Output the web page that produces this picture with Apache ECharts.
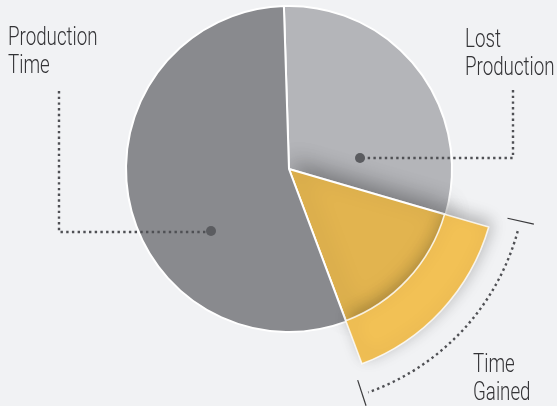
<!DOCTYPE html>
<html>
<head>
<meta charset="utf-8">
<script src="https://cdn.jsdelivr.net/npm/echarts@6/dist/echarts.min.js"></script>
<style>
  html, body { margin: 0; padding: 0; background: #f1f2f4; }
  #chart { width: 557px; height: 406px; }
</style>
</head>
<body>
<div id="chart"></div>
<script>
// slices, clockwise from just left of 12 o'clock
const sliceNames = ['Lost Production', 'Time Gained', 'Production Time'];
const sliceValues = [30, 14.8, 55.2];
const baseColors = ['#b4b5b9', '#e2b44f', '#898a8e'];
const gainedOuterColor = '#f2c155';
const labelTexts = ['Lost\nProduction', 'Time\nGained', 'Production\nTime'];

const cx = 289, cy = 169;
const rPie = 163, rGain = 208;
const startAngle = 91.8; // echarts degrees, ccw from 3 o'clock

const font = "Roboto, 'Liberation Sans', sans-serif";
const inkColor = '#4f5054';
const deg = Math.PI / 180;

// angle (clockwise from 3 o'clock, degrees) where each slice starts / ends
const total = sliceValues.reduce((a, b) => a + b, 0);
let acc = -startAngle;
const sliceStart = [], sliceEnd = [];
sliceValues.forEach(v => {
  sliceStart.push(acc);
  acc += v / total * 360;
  sliceEnd.push(acc);
});

let chart = echarts.init(document.getElementById('chart'));

// dotted leader line
function dotted(points) {
  return {
    type: 'polyline', silent: true, z: 10,
    shape: { points: points },
    style: { stroke: inkColor, lineWidth: 2.4, lineDash: [2.4, 3.3], fill: null }
  };
}
function dot(x, y) {
  return { type: 'circle', silent: true, z: 11, shape: { cx: x, cy: y, r: 5 }, style: { fill: '#5b5c60' } };
}
// condensed look: squeeze the text horizontally
function label(text, x, y) {
  return {
    type: 'text', x: x, y: y, scaleX: 0.75, z: 12,
    style: { text: text, x: 0, y: 0, verticalAlign: 'top', fontFamily: font, fontWeight: 300, fontSize: 25, lineHeight: 28, fill: '#333336' }
  };
}
function radialTick(a, r0, r1) {
  return {
    type: 'line', silent: true, z: 10,
    shape: { x1: cx + r0 * Math.cos(a * deg), y1: cy + r0 * Math.sin(a * deg),
             x2: cx + r1 * Math.cos(a * deg), y2: cy + r1 * Math.sin(a * deg) },
    style: { stroke: '#3a3a3c', lineWidth: 1.2 }
  };
}

let gStart = sliceStart[1], gEnd = sliceEnd[1];

let options = {
  backgroundColor: '#f1f2f4',
  animation: false,
  series: [
    {
      type: 'pie',
      center: [cx, cy],
      radius: [0, rPie],
      startAngle: startAngle,
      clockwise: true,
      label: { show: false },
      labelLine: { show: false },
      emphasis: { disabled: true },
      data: sliceNames.map((n, i) => ({
        name: n,
        value: sliceValues[i],
        itemStyle: i === 1 ? {
          color: baseColors[i], borderColor: '#fff', borderWidth: 2,
          shadowBlur: 22, shadowColor: 'rgba(0,0,0,0.35)', shadowOffsetX: 3, shadowOffsetY: -6
        } : { color: baseColors[i], borderColor: '#fff', borderWidth: 2 }
      }))
    },
    {
      type: 'pie',
      center: [cx, cy],
      radius: [rPie - 1, rGain],
      startAngle: startAngle,
      clockwise: true,
      silent: true,
      label: { show: false },
      labelLine: { show: false },
      data: sliceNames.map((n, i) => ({
        name: n,
        value: sliceValues[i],
        itemStyle: i === 1 ? {
          color: gainedOuterColor, borderColor: 'rgba(255,255,255,0.8)', borderWidth: 1.6,
          shadowBlur: 16, shadowColor: 'rgba(0,0,0,0.25)', shadowOffsetX: 3, shadowOffsetY: -5
        } : { color: 'rgba(0,0,0,0)', borderWidth: 0 }
      }))
    }
  ],
  graphic: [
    dotted([[59, 91], [59, 232], [211, 232]]),
    dot(211, 231),
    dotted([[513, 90], [513, 158], [360, 158]]),
    dot(360, 158),
    {
      type: 'arc', silent: true, z: 10,
      shape: { cx: cx, cy: cy, r: 237, startAngle: (gStart - 1) * deg, endAngle: (gEnd + 1) * deg, clockwise: true },
      style: { stroke: inkColor, lineWidth: 2.4, lineDash: [2.4, 3.3], fill: null }
    },
    radialTick(gStart - 3.5, 224, 251),
    radialTick(gEnd + 2.5, 222, 249),
    label(labelTexts[2], 8, 25),
    label(labelTexts[0], 465, 27),
    label(labelTexts[1], 473, 352)
  ]
};

chart.setOption(options);
</script>
</body>
</html>
